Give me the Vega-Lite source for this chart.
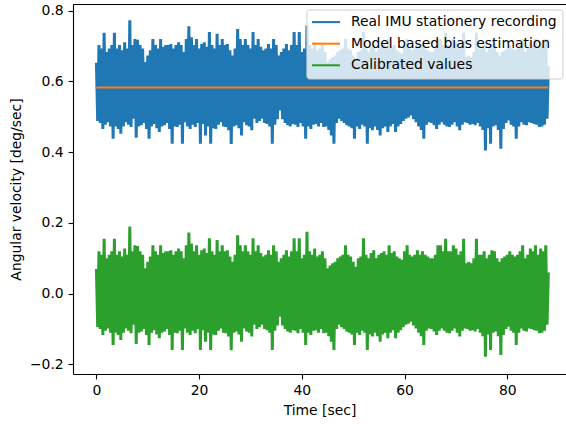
{
"$schema": "https://vega.github.io/schema/vega-lite/v6.json",
"width": 493, "height": 370,
"autosize": "none",
"padding": {"left": 73, "top": 4, "right": 0, "bottom": 50},
"background": "white",
"config": {
  "font": "DejaVu Sans",
  "view": {"stroke": null},
  "axis": {"domainColor": "#000", "domainWidth": 1.1, "tickColor": "#000", "tickWidth": 1.1, "tickSize": 4.9, "labelPadding": 4.9, "labelFontSize": 13.9, "labelColor": "#000", "labelFont": "DejaVu Sans", "titleFont": "DejaVu Sans", "titleFontSize": 13.9, "titleFontWeight": "normal", "titleColor": "#000", "grid": false, "titlePadding": 5.6, "labelFlush": false, "labelOverlap": false}
},
"layer": [
 {
  "data": {"values": [
{"t":0,"r":0.653,"c":0.07},{"t":0.25,"r":0.488,"c":-0.095},{"t":0.5,"r":0.703,"c":0.12},{"t":0.75,"r":0.483,"c":-0.1},
{"t":1,"r":0.693,"c":0.11},{"t":1.25,"r":0.466,"c":-0.117},{"t":1.5,"r":0.738,"c":0.155},{"t":1.75,"r":0.478,"c":-0.105},
{"t":2,"r":0.683,"c":0.1},{"t":2.25,"r":0.485,"c":-0.098},{"t":2.5,"r":0.693,"c":0.11},{"t":2.75,"r":0.473,"c":-0.11},
{"t":3,"r":0.703,"c":0.12},{"t":3.25,"r":0.438,"c":-0.145},{"t":3.5,"r":0.738,"c":0.155},{"t":3.75,"r":0.473,"c":-0.11},
{"t":4,"r":0.693,"c":0.11},{"t":4.25,"r":0.466,"c":-0.117},{"t":4.5,"r":0.703,"c":0.12},{"t":4.75,"r":0.452,"c":-0.131},
{"t":5,"r":0.688,"c":0.105},{"t":5.25,"r":0.473,"c":-0.11},{"t":5.5,"r":0.711,"c":0.128},{"t":5.75,"r":0.485,"c":-0.098},
{"t":6,"r":0.693,"c":0.11},{"t":6.25,"r":0.478,"c":-0.105},{"t":6.5,"r":0.773,"c":0.19},{"t":6.75,"r":0.471,"c":-0.112},
{"t":7,"r":0.703,"c":0.12},{"t":7.25,"r":0.495,"c":-0.088},{"t":7.5,"r":0.72,"c":0.137},{"t":7.75,"r":0.441,"c":-0.142},
{"t":8,"r":0.718,"c":0.135},{"t":8.25,"r":0.473,"c":-0.11},{"t":8.5,"r":0.703,"c":0.12},{"t":8.75,"r":0.476,"c":-0.107},
{"t":9,"r":0.693,"c":0.11},{"t":9.25,"r":0.483,"c":-0.1},{"t":9.5,"r":0.655,"c":0.072},{"t":9.75,"r":0.466,"c":-0.117},
{"t":10,"r":0.673,"c":0.09},{"t":10.25,"r":0.438,"c":-0.145},{"t":10.5,"r":0.688,"c":0.105},{"t":10.75,"r":0.473,"c":-0.11},
{"t":11,"r":0.72,"c":0.137},{"t":11.25,"r":0.48,"c":-0.103},{"t":11.5,"r":0.703,"c":0.12},{"t":11.75,"r":0.468,"c":-0.115},
{"t":12,"r":0.693,"c":0.11},{"t":12.25,"r":0.457,"c":-0.126},{"t":12.5,"r":0.72,"c":0.137},{"t":12.75,"r":0.473,"c":-0.11},
{"t":13,"r":0.698,"c":0.115},{"t":13.25,"r":0.476,"c":-0.107},{"t":13.5,"r":0.703,"c":0.12},{"t":13.75,"r":0.483,"c":-0.1},
{"t":14,"r":0.703,"c":0.12},{"t":14.25,"r":0.466,"c":-0.117},{"t":14.5,"r":0.706,"c":0.123},{"t":14.75,"r":0.424,"c":-0.159},
{"t":15,"r":0.693,"c":0.11},{"t":15.25,"r":0.473,"c":-0.11},{"t":15.5,"r":0.703,"c":0.12},{"t":15.75,"r":0.471,"c":-0.112},
{"t":16,"r":0.711,"c":0.128},{"t":16.25,"r":0.478,"c":-0.105},{"t":16.5,"r":0.703,"c":0.12},{"t":16.75,"r":0.424,"c":-0.159},
{"t":17,"r":0.683,"c":0.1},{"t":17.25,"r":0.485,"c":-0.098},{"t":17.5,"r":0.72,"c":0.137},{"t":17.75,"r":0.473,"c":-0.11},
{"t":18,"r":0.756,"c":0.173},{"t":18.25,"r":0.466,"c":-0.117},{"t":18.5,"r":0.725,"c":0.142},{"t":18.75,"r":0.478,"c":-0.105},
{"t":19,"r":0.703,"c":0.12},{"t":19.25,"r":0.471,"c":-0.112},{"t":19.5,"r":0.72,"c":0.137},{"t":19.75,"r":0.483,"c":-0.1},
{"t":20,"r":0.693,"c":0.11},{"t":20.25,"r":0.424,"c":-0.159},{"t":20.5,"r":0.706,"c":0.123},{"t":20.75,"r":0.48,"c":-0.103},
{"t":21,"r":0.711,"c":0.128},{"t":21.25,"r":0.447,"c":-0.136},{"t":21.5,"r":0.698,"c":0.115},{"t":21.75,"r":0.473,"c":-0.11},
{"t":22,"r":0.74,"c":0.157},{"t":22.25,"r":0.424,"c":-0.159},{"t":22.5,"r":0.703,"c":0.12},{"t":22.75,"r":0.468,"c":-0.115},
{"t":23,"r":0.693,"c":0.11},{"t":23.25,"r":0.466,"c":-0.117},{"t":23.5,"r":0.735,"c":0.152},{"t":23.75,"r":0.478,"c":-0.105},
{"t":24,"r":0.703,"c":0.12},{"t":24.25,"r":0.485,"c":-0.098},{"t":24.5,"r":0.72,"c":0.137},{"t":24.75,"r":0.473,"c":-0.11},
{"t":25,"r":0.703,"c":0.12},{"t":25.25,"r":0.471,"c":-0.112},{"t":25.5,"r":0.706,"c":0.123},{"t":25.75,"r":0.462,"c":-0.121},
{"t":26,"r":0.688,"c":0.105},{"t":26.25,"r":0.423,"c":-0.16},{"t":26.5,"r":0.673,"c":0.09},{"t":26.75,"r":0.473,"c":-0.11},
{"t":27,"r":0.693,"c":0.11},{"t":27.25,"r":0.476,"c":-0.107},{"t":27.5,"r":0.748,"c":0.165},{"t":27.75,"r":0.468,"c":-0.115},
{"t":28,"r":0.72,"c":0.137},{"t":28.25,"r":0.447,"c":-0.136},{"t":28.5,"r":0.703,"c":0.12},{"t":28.75,"r":0.485,"c":-0.098},
{"t":29,"r":0.72,"c":0.137},{"t":29.25,"r":0.476,"c":-0.107},{"t":29.5,"r":0.703,"c":0.12},{"t":29.75,"r":0.473,"c":-0.11},
{"t":30,"r":0.693,"c":0.11},{"t":30.25,"r":0.462,"c":-0.121},{"t":30.5,"r":0.74,"c":0.157},{"t":30.75,"r":0.495,"c":-0.088},
{"t":31,"r":0.703,"c":0.12},{"t":31.25,"r":0.483,"c":-0.1},{"t":31.5,"r":0.72,"c":0.137},{"t":31.75,"r":0.488,"c":-0.095},
{"t":32,"r":0.698,"c":0.115},{"t":32.25,"r":0.495,"c":-0.088},{"t":32.5,"r":0.688,"c":0.105},{"t":32.75,"r":0.483,"c":-0.1},
{"t":33,"r":0.693,"c":0.11},{"t":33.25,"r":0.48,"c":-0.103},{"t":33.5,"r":0.706,"c":0.123},{"t":33.75,"r":0.473,"c":-0.11},
{"t":34,"r":0.693,"c":0.11},{"t":34.25,"r":0.424,"c":-0.159},{"t":34.5,"r":0.72,"c":0.137},{"t":34.75,"r":0.478,"c":-0.105},
{"t":35,"r":0.703,"c":0.12},{"t":35.25,"r":0.493,"c":-0.09},{"t":35.5,"r":0.673,"c":0.09},{"t":35.75,"r":0.518,"c":-0.065},
{"t":36,"r":0.683,"c":0.1},{"t":36.25,"r":0.493,"c":-0.09},{"t":36.5,"r":0.693,"c":0.11},{"t":36.75,"r":0.483,"c":-0.1},
{"t":37,"r":0.706,"c":0.123},{"t":37.25,"r":0.476,"c":-0.107},{"t":37.5,"r":0.688,"c":0.105},{"t":37.75,"r":0.473,"c":-0.11},
{"t":38,"r":0.703,"c":0.12},{"t":38.25,"r":0.48,"c":-0.103},{"t":38.5,"r":0.74,"c":0.157},{"t":38.75,"r":0.478,"c":-0.105},
{"t":39,"r":0.703,"c":0.12},{"t":39.25,"r":0.471,"c":-0.112},{"t":39.5,"r":0.74,"c":0.157},{"t":39.75,"r":0.483,"c":-0.1},
{"t":40,"r":0.683,"c":0.1},{"t":40.25,"r":0.473,"c":-0.11},{"t":40.5,"r":0.693,"c":0.11},{"t":40.75,"r":0.438,"c":-0.145},
{"t":41,"r":0.758,"c":0.175},{"t":41.25,"r":0.473,"c":-0.11},{"t":41.5,"r":0.703,"c":0.12},{"t":41.75,"r":0.466,"c":-0.117},
{"t":42,"r":0.693,"c":0.11},{"t":42.25,"r":0.478,"c":-0.105},{"t":42.5,"r":0.711,"c":0.128},{"t":42.75,"r":0.48,"c":-0.103},
{"t":43,"r":0.688,"c":0.105},{"t":43.25,"r":0.473,"c":-0.11},{"t":43.5,"r":0.693,"c":0.11},{"t":43.75,"r":0.483,"c":-0.1},
{"t":44,"r":0.703,"c":0.12},{"t":44.25,"r":0.471,"c":-0.112},{"t":44.5,"r":0.683,"c":0.1},{"t":44.75,"r":0.473,"c":-0.11},
{"t":45,"r":0.655,"c":0.072},{"t":45.25,"r":0.463,"c":-0.12},{"t":45.5,"r":0.663,"c":0.08},{"t":45.75,"r":0.447,"c":-0.136},
{"t":46,"r":0.669,"c":0.086},{"t":46.25,"r":0.424,"c":-0.159},{"t":46.5,"r":0.673,"c":0.09},{"t":46.75,"r":0.483,"c":-0.1},
{"t":47,"r":0.683,"c":0.1},{"t":47.25,"r":0.495,"c":-0.088},{"t":47.5,"r":0.688,"c":0.105},{"t":47.75,"r":0.488,"c":-0.095},
{"t":48,"r":0.693,"c":0.11},{"t":48.25,"r":0.483,"c":-0.1},{"t":48.5,"r":0.72,"c":0.137},{"t":48.75,"r":0.476,"c":-0.107},
{"t":49,"r":0.693,"c":0.11},{"t":49.25,"r":0.473,"c":-0.11},{"t":49.5,"r":0.688,"c":0.105},{"t":49.75,"r":0.468,"c":-0.115},
{"t":50,"r":0.673,"c":0.09},{"t":50.25,"r":0.438,"c":-0.145},{"t":50.5,"r":0.659,"c":0.076},{"t":50.75,"r":0.473,"c":-0.11},
{"t":51,"r":0.683,"c":0.1},{"t":51.25,"r":0.466,"c":-0.117},{"t":51.5,"r":0.688,"c":0.105},{"t":51.75,"r":0.478,"c":-0.105},
{"t":52,"r":0.74,"c":0.157},{"t":52.25,"r":0.473,"c":-0.11},{"t":52.5,"r":0.693,"c":0.11},{"t":52.75,"r":0.424,"c":-0.159},
{"t":53,"r":0.683,"c":0.1},{"t":53.25,"r":0.468,"c":-0.115},{"t":53.5,"r":0.698,"c":0.115},{"t":53.75,"r":0.462,"c":-0.121},
{"t":54,"r":0.706,"c":0.123},{"t":54.25,"r":0.473,"c":-0.11},{"t":54.5,"r":0.683,"c":0.1},{"t":54.75,"r":0.463,"c":-0.12},
{"t":55,"r":0.693,"c":0.11},{"t":55.25,"r":0.447,"c":-0.136},{"t":55.5,"r":0.698,"c":0.115},{"t":55.75,"r":0.468,"c":-0.115},
{"t":56,"r":0.703,"c":0.12},{"t":56.25,"r":0.473,"c":-0.11},{"t":56.5,"r":0.693,"c":0.11},{"t":56.75,"r":0.457,"c":-0.126},
{"t":57,"r":0.72,"c":0.137},{"t":57.25,"r":0.473,"c":-0.11},{"t":57.5,"r":0.698,"c":0.115},{"t":57.75,"r":0.48,"c":-0.103},
{"t":58,"r":0.703,"c":0.12},{"t":58.25,"r":0.457,"c":-0.126},{"t":58.5,"r":0.688,"c":0.105},{"t":58.75,"r":0.473,"c":-0.11},
{"t":59,"r":0.683,"c":0.1},{"t":59.25,"r":0.48,"c":-0.103},{"t":59.5,"r":0.679,"c":0.096},{"t":59.75,"r":0.488,"c":-0.095},
{"t":60,"r":0.703,"c":0.12},{"t":60.25,"r":0.495,"c":-0.088},{"t":60.5,"r":0.72,"c":0.137},{"t":60.75,"r":0.498,"c":-0.085},
{"t":61,"r":0.693,"c":0.11},{"t":61.25,"r":0.504,"c":-0.079},{"t":61.5,"r":0.688,"c":0.105},{"t":61.75,"r":0.493,"c":-0.09},
{"t":62,"r":0.693,"c":0.11},{"t":62.25,"r":0.485,"c":-0.098},{"t":62.5,"r":0.706,"c":0.123},{"t":62.75,"r":0.473,"c":-0.11},
{"t":63,"r":0.693,"c":0.11},{"t":63.25,"r":0.463,"c":-0.12},{"t":63.5,"r":0.703,"c":0.12},{"t":63.75,"r":0.438,"c":-0.145},
{"t":64,"r":0.693,"c":0.11},{"t":64.25,"r":0.478,"c":-0.105},{"t":64.5,"r":0.688,"c":0.105},{"t":64.75,"r":0.485,"c":-0.098},
{"t":65,"r":0.683,"c":0.1},{"t":65.25,"r":0.483,"c":-0.1},{"t":65.5,"r":0.683,"c":0.1},{"t":65.75,"r":0.476,"c":-0.107},
{"t":66,"r":0.693,"c":0.11},{"t":66.25,"r":0.466,"c":-0.117},{"t":66.5,"r":0.72,"c":0.137},{"t":66.75,"r":0.478,"c":-0.105},
{"t":67,"r":0.72,"c":0.137},{"t":67.25,"r":0.485,"c":-0.098},{"t":67.5,"r":0.703,"c":0.12},{"t":67.75,"r":0.478,"c":-0.105},
{"t":68,"r":0.738,"c":0.155},{"t":68.25,"r":0.473,"c":-0.11},{"t":68.5,"r":0.703,"c":0.12},{"t":68.75,"r":0.471,"c":-0.112},
{"t":69,"r":0.703,"c":0.12},{"t":69.25,"r":0.478,"c":-0.105},{"t":69.5,"r":0.72,"c":0.137},{"t":69.75,"r":0.485,"c":-0.098},
{"t":70,"r":0.711,"c":0.128},{"t":70.25,"r":0.473,"c":-0.11},{"t":70.5,"r":0.693,"c":0.11},{"t":70.75,"r":0.462,"c":-0.121},
{"t":71,"r":0.703,"c":0.12},{"t":71.25,"r":0.478,"c":-0.105},{"t":71.5,"r":0.738,"c":0.155},{"t":71.75,"r":0.485,"c":-0.098},
{"t":72,"r":0.669,"c":0.086},{"t":72.25,"r":0.483,"c":-0.1},{"t":72.5,"r":0.673,"c":0.09},{"t":72.75,"r":0.478,"c":-0.105},
{"t":73,"r":0.669,"c":0.086},{"t":73.25,"r":0.48,"c":-0.103},{"t":73.5,"r":0.683,"c":0.1},{"t":73.75,"r":0.476,"c":-0.107},
{"t":74,"r":0.738,"c":0.155},{"t":74.25,"r":0.483,"c":-0.1},{"t":74.5,"r":0.693,"c":0.11},{"t":74.75,"r":0.473,"c":-0.11},
{"t":75,"r":0.693,"c":0.11},{"t":75.25,"r":0.463,"c":-0.12},{"t":75.5,"r":0.703,"c":0.12},{"t":75.75,"r":0.405,"c":-0.178},
{"t":76,"r":0.683,"c":0.1},{"t":76.25,"r":0.468,"c":-0.115},{"t":76.5,"r":0.693,"c":0.11},{"t":76.75,"r":0.424,"c":-0.159},
{"t":77,"r":0.706,"c":0.123},{"t":77.25,"r":0.473,"c":-0.11},{"t":77.5,"r":0.703,"c":0.12},{"t":77.75,"r":0.476,"c":-0.107},
{"t":78,"r":0.683,"c":0.1},{"t":78.25,"r":0.463,"c":-0.12},{"t":78.5,"r":0.673,"c":0.09},{"t":78.75,"r":0.41,"c":-0.173},
{"t":79,"r":0.683,"c":0.1},{"t":79.25,"r":0.466,"c":-0.117},{"t":79.5,"r":0.688,"c":0.105},{"t":79.75,"r":0.483,"c":-0.1},
{"t":80,"r":0.693,"c":0.11},{"t":80.25,"r":0.49,"c":-0.093},{"t":80.5,"r":0.703,"c":0.12},{"t":80.75,"r":0.478,"c":-0.105},
{"t":81,"r":0.693,"c":0.11},{"t":81.25,"r":0.473,"c":-0.11},{"t":81.5,"r":0.688,"c":0.105},{"t":81.75,"r":0.438,"c":-0.145},
{"t":82,"r":0.693,"c":0.11},{"t":82.25,"r":0.473,"c":-0.11},{"t":82.5,"r":0.703,"c":0.12},{"t":82.75,"r":0.485,"c":-0.098},
{"t":83,"r":0.72,"c":0.137},{"t":83.25,"r":0.478,"c":-0.105},{"t":83.5,"r":0.683,"c":0.1},{"t":83.75,"r":0.476,"c":-0.107},
{"t":84,"r":0.693,"c":0.11},{"t":84.25,"r":0.485,"c":-0.098},{"t":84.5,"r":0.711,"c":0.128},{"t":84.75,"r":0.483,"c":-0.1},
{"t":85,"r":0.703,"c":0.12},{"t":85.25,"r":0.48,"c":-0.103},{"t":85.5,"r":0.72,"c":0.137},{"t":85.75,"r":0.478,"c":-0.105},
{"t":86,"r":0.693,"c":0.11},{"t":86.25,"r":0.471,"c":-0.112},{"t":86.5,"r":0.711,"c":0.128},{"t":86.75,"r":0.473,"c":-0.11},
{"t":87,"r":0.703,"c":0.12},{"t":87.25,"r":0.478,"c":-0.105},{"t":87.5,"r":0.72,"c":0.137},{"t":87.75,"r":0.495,"c":-0.088},
{"t":88,"r":0.643,"c":0.06}
  ]},
  "transform": [{"fold": ["r", "c"], "as": ["s", "v"]}],
  "mark": {"type": "line", "strokeWidth": 3},
  "encoding": {
    "x": {"field": "t", "type": "quantitative", "scale": {"domain": [-4.56, 91.44], "nice": false, "zero": false}, "axis": {"values": [0, 20, 40, 60, 80], "format": "d", "title": "Time [sec]"}},
    "y": {"field": "v", "type": "quantitative", "scale": {"domain": [-0.227, 0.819], "nice": false, "zero": false}, "axis": {"values": [-0.2, 0, 0.2, 0.4, 0.6, 0.8], "format": ".1f", "title": "Angular velocity [deg/sec]"}},
    "color": {"field": "s", "type": "nominal", "scale": {"domain": ["r", "b", "c"], "range": ["#1f77b4", "#ff7f0e", "#2ca02c"]},
      "legend": {"title": null, "orient": "none", "legendX": 233.4, "legendY": 5.5, "symbolType": "M-2.545,0H2.545", "symbolSize": 121, "symbolOffset": 7, "symbolStrokeWidth": 2.08, "labelFontSize": 13.9, "labelFont": "DejaVu Sans", "labelColor": "#000", "labelOffset": 18, "rowPadding": 7.6, "padding": 5.6, "fillColor": "rgba(255,255,255,0.8)", "strokeColor": "#cccccc", "cornerRadius": 2.8, "labelLimit": 400,
        "labelExpr": "datum.label == 'r' ? 'Real IMU stationery recording' : datum.label == 'b' ? 'Model based bias estimation' : 'Calibrated values'"}}
  }
 },
 {
  "data": {"values": [{"t": 0, "s": "b", "v": 0.583}, {"t": 88, "s": "b", "v": 0.583}]},
  "mark": {"type": "line", "strokeWidth": 2.08},
  "encoding": {
    "x": {"field": "t", "type": "quantitative", "axis": {"orient": "top", "labels": false, "ticks": false, "title": null, "domain": true}},
    "y": {"field": "v", "type": "quantitative"},
    "color": {"field": "s", "type": "nominal"}
  }
 }
],
"resolve": {"axis": {"x": "independent"}}
}
